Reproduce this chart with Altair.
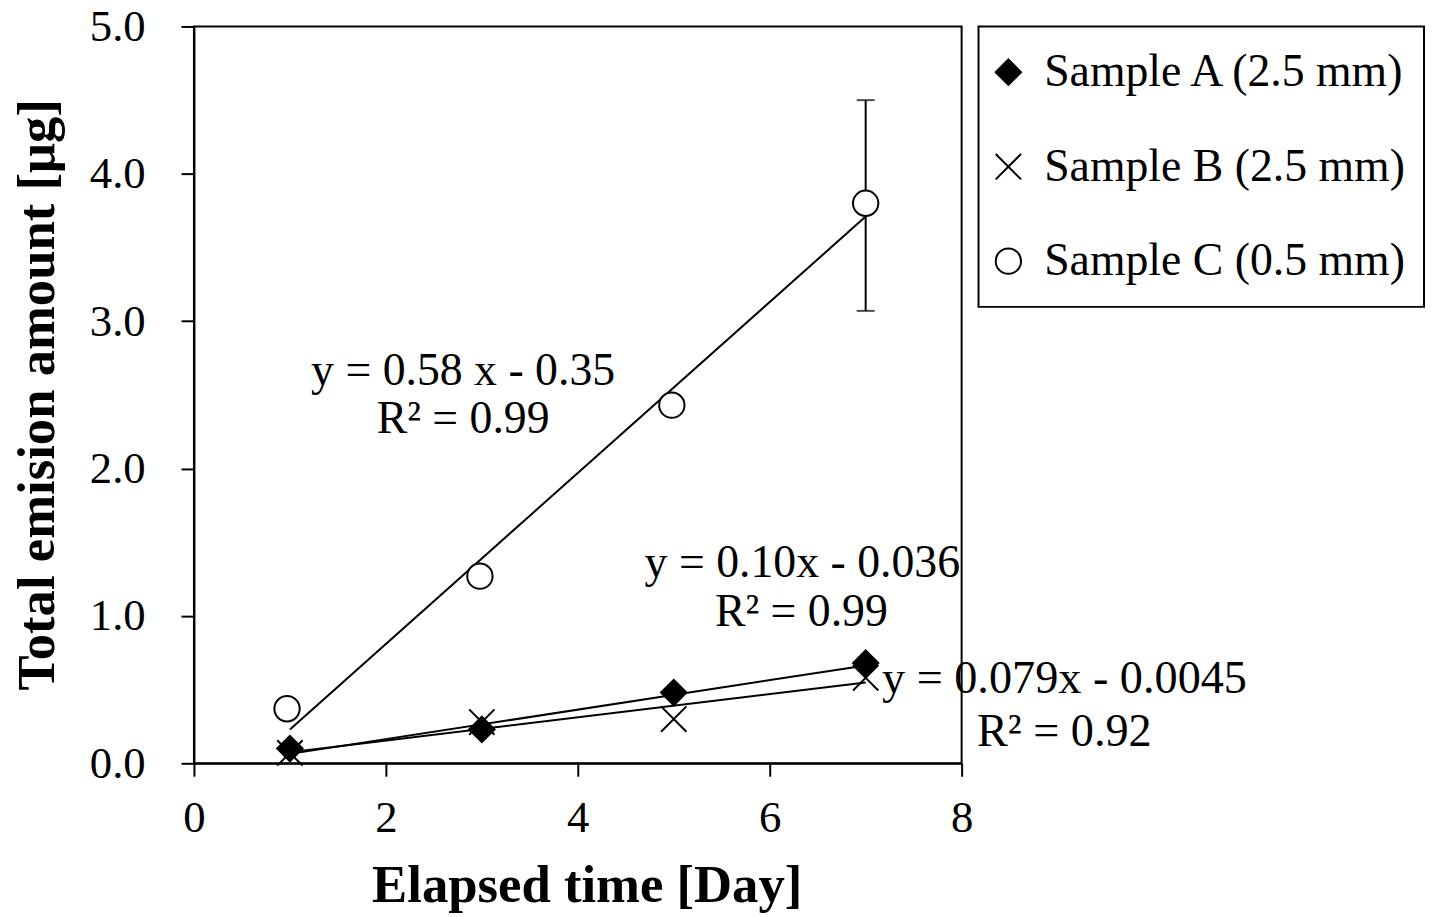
import altair as alt
import pandas as pd

# ---- data ----
series = ["Sample A (2.5 mm)", "Sample B (2.5 mm)", "Sample C (0.5 mm)"]
days_a = [1, 3, 5, 7]
vals_a = [0.10, 0.23, 0.48, 0.68]
days_b = [1, 3, 5, 7]
vals_b = [0.07, 0.28, 0.30, 0.58]
days_c = [0.97, 2.98, 4.98, 7.0]
vals_c = [0.37, 1.27, 2.43, 3.80]

err_day = [7.0]
err_low = [3.07]
err_high = [4.50]

fit_slope = [0.10, 0.079, 0.58]
fit_intercept = [-0.036, -0.0045, -0.35]
fit_start = [1, 1, 1]
fit_end = [7, 7, 7]

ann_center_text = ["y = 0.58 x - 0.35", "R\u00b2 = 0.99", "y = 0.10x - 0.036", "R\u00b2 = 0.99"]
ann_center_x = [2.805, 2.805, 6.34, 6.33]
ann_center_y = [2.57, 2.24, 1.265, 0.934]
ann_left_text = ["y = 0.079x - 0.0045", "R\u00b2 = 0.92"]
ann_left_x = [7.17, 8.16]
ann_left_y = [0.48, 0.12]

x_ticks = [0, 2, 4, 6, 8]
y_ticks = [0, 1, 2, 3, 4, 5]

# ---- tables ----
pts = pd.DataFrame({
    "day": days_a + days_b + days_c,
    "val": vals_a + vals_b + vals_c,
    "series": [series[0]] * 4 + [series[1]] * 4 + [series[2]] * 4,
})
fit_rows = []
for s, m, b, x0, x1 in zip(series, fit_slope, fit_intercept, fit_start, fit_end):
    fit_rows.append({"series": s, "day": x0, "val": m * x0 + b})
    fit_rows.append({"series": s, "day": x1, "val": m * x1 + b})
fits = pd.DataFrame(fit_rows)
err = pd.DataFrame({"day": err_day, "lo": err_low, "hi": err_high})
ann_c = pd.DataFrame({"t": ann_center_text, "x": ann_center_x, "y": ann_center_y})
ann_l = pd.DataFrame({"t": ann_left_text, "x": ann_left_x, "y": ann_left_y})

FONT = "Liberation Serif"

xscale = alt.Scale(domain=[0, 8], nice=False, zero=False)
yscale = alt.Scale(domain=[0, 5], nice=False, zero=False)

xaxis = alt.Axis(
    values=x_ticks, format="d", title="Elapsed time [Day]", grid=False,
    labelFont=FONT, labelFontSize=45, labelColor="black", labelPadding=20,
    labelFlush=False, labelOverlap=False,
    tickSize=13, tickColor="black", tickWidth=2,
    domainColor="black", domainWidth=2,
    titleFont=FONT, titleFontSize=53, titleFontWeight="bold", titleColor="black",
    titleX=395, titleY=139, titleBaseline="alphabetic", titleAnchor="middle",
)
yaxis = alt.Axis(
    values=y_ticks, format=".1f", title="Total emision amount [\u03bcg]", grid=False,
    labelFont=FONT, labelFontSize=45, labelColor="black", labelPadding=36,
    labelFlush=False, labelOverlap=False,
    tickSize=13, tickColor="black", tickWidth=2,
    domainColor="black", domainWidth=2,
    titleFont=FONT, titleFontSize=53, titleFontWeight="bold", titleColor="black",
    titleX=-141, titleY=370, titleAngle=-90, titleBaseline="alphabetic",
    titleAlign="center",
)

shape_scale = alt.Scale(domain=series, range=["diamond", "M-1,-1L1,1M-1,1L1,-1", "circle"])
fill_scale = alt.Scale(domain=series, range=["black", "transparent", "white"])
stroke_scale = alt.Scale(domain=series, range=["black", "black", "black"])

legend = alt.Legend(
    title=None, orient="none", legendX=789, legendY=0,
    labelFont=FONT, labelFontSize=46, labelColor="black",
    symbolSize=650, symbolStrokeWidth=2, symbolOpacity=1,
    strokeColor="black", fillColor="white", padding=16, rowPadding=35,
    clipHeight=60, labelOffset=13, labelLimit=0, symbolOffset=-9,
)

base_x = alt.X("day:Q", scale=xscale, axis=xaxis)
base_y = alt.Y("val:Q", scale=yscale, axis=yaxis)

lines = alt.Chart(fits).mark_line(color="black", strokeWidth=2).encode(
    x=base_x, y=base_y, detail="series:N"
)

err_rule = alt.Chart(err).mark_rule(color="black", strokeWidth=2).encode(
    x=alt.X("day:Q", scale=xscale), y=alt.Y("lo:Q", scale=yscale), y2="hi:Q"
)
cap_lo = alt.Chart(err).mark_tick(color="black", thickness=2, size=18, orient="horizontal").encode(
    x=alt.X("day:Q", scale=xscale), y=alt.Y("lo:Q", scale=yscale)
)
cap_hi = alt.Chart(err).mark_tick(color="black", thickness=2, size=18, orient="horizontal").encode(
    x=alt.X("day:Q", scale=xscale), y=alt.Y("hi:Q", scale=yscale)
)

points = alt.Chart(pts).mark_point(size=650, strokeWidth=2, opacity=1).encode(
    x=base_x, y=base_y,
    shape=alt.Shape("series:N", scale=shape_scale, legend=legend),
    fill=alt.Fill("series:N", scale=fill_scale, legend=legend),
    stroke=alt.Stroke("series:N", scale=stroke_scale, legend=legend),
)

text_c = alt.Chart(ann_c).mark_text(
    font=FONT, fontSize=46, color="black", align="center", baseline="alphabetic"
).encode(x=alt.X("x:Q", scale=xscale), y=alt.Y("y:Q", scale=yscale), text="t:N")
text_l = alt.Chart(ann_l).mark_text(
    font=FONT, fontSize=46.5, color="black", align="left", baseline="alphabetic"
).encode(x=alt.X("x:Q", scale=xscale), y=alt.Y("y:Q", scale=yscale), text="t:N")

chart = alt.layer(lines, err_rule, cap_lo, cap_hi, points, text_c, text_l).properties(
    width=772, height=741,
    autosize=alt.AutoSizeParams(type="none"),
    padding={"left": 187, "top": 16, "right": 468, "bottom": 150},
    background="white",
).configure_view(stroke="black", strokeWidth=2).configure_legend(strokeWidth=2)

chart.save("out.html", embed_options={"renderer": "svg", "actions": False})
